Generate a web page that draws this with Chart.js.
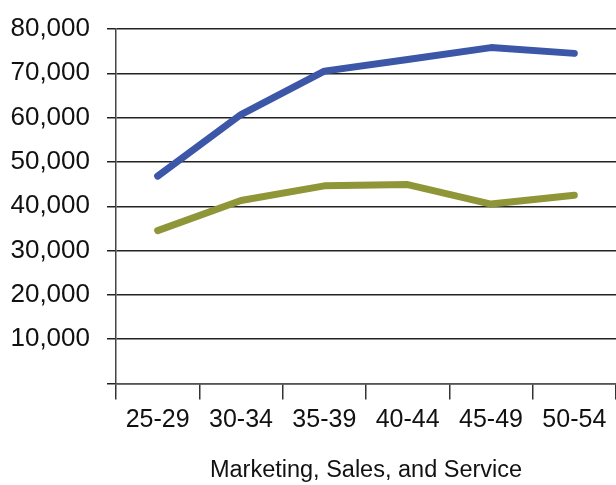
<!DOCTYPE html>
<html>
<head>
<meta charset="utf-8">
<script src="https://cdn.jsdelivr.net/npm/chart.js@4"></script>
<style>
html,body{margin:0;padding:0;background:#fff;}
canvas{display:block;}
</style>
</head>
<body>
<canvas id="c" width="616" height="485"></canvas>
<script>
const categories = ["25-29", "30-34", "35-39", "40-44", "45-49", "50-54"];
const seriesBlue = [46800, 60700, 70500, 73100, 75800, 74500];
const seriesOlive = [34500, 41300, 44600, 44900, 40500, 42500];
const yTicks = [0, 10000, 20000, 30000, 40000, 50000, 60000, 70000, 80000];
const xTitle = "Marketing, Sales, and Service";

const FONT = "'Liberation Sans Narrow', 'Liberation Sans', Arial, sans-serif";

new Chart(document.getElementById('c'), {
  type: 'line',
  data: {
    labels: categories,
    datasets: [
      { label: 'Blue', data: seriesBlue, borderColor: '#3c56a8', borderWidth: 7,
        borderCapStyle: 'round', borderJoinStyle: 'round', pointRadius: 0, tension: 0, fill: false },
      { label: 'Olive', data: seriesOlive, borderColor: '#8e9637', borderWidth: 7,
        borderCapStyle: 'round', borderJoinStyle: 'round', pointRadius: 0, tension: 0, fill: false }
    ]
  },
  options: {
    responsive: false,
    animation: false,
    devicePixelRatio: 1,
    layout: { padding: { top: 29, right: 0, left: 0, bottom: 0 } },
    plugins: { legend: { display: false }, tooltip: { enabled: false } },
    scales: {
      x: {
        offset: true,
        grid: { offset: true, drawOnChartArea: false, drawTicks: true, tickLength: 16, color: '#333', lineWidth: 1.5 },
        border: { display: true, color: '#555', width: 1.5 },
        ticks: { font: { family: FONT, size: 25 }, color: '#111', padding: 6, maxRotation: 0, autoSkip: false },
        title: { display: true, text: xTitle, font: { family: FONT, size: 23.5 }, color: '#111', padding: { top: 12, bottom: 0 } },
        afterFit: (s) => { s.height = 101.5; s.paddingLeft = 0; s.paddingRight = 0; }
      },
      y: {
        min: 0, max: 80000,
        afterBuildTicks: (s) => { s.ticks = yTicks.map(v => ({ value: v })); },
        grid: { color: '#222', lineWidth: 1.5, tickLength: 9, drawTicks: true },
        border: { display: true, color: '#444', width: 1.5 },
        ticks: {
          font: { family: FONT, size: 26 }, color: '#111', padding: 17,
          callback: (v) => v === 0 ? '' : v.toLocaleString('en-US')
        },
        afterFit: (s) => { s.width = 116; s.paddingTop = 0; s.paddingBottom = 0; }
      }
    }
  }
});
</script>
</body>
</html>
